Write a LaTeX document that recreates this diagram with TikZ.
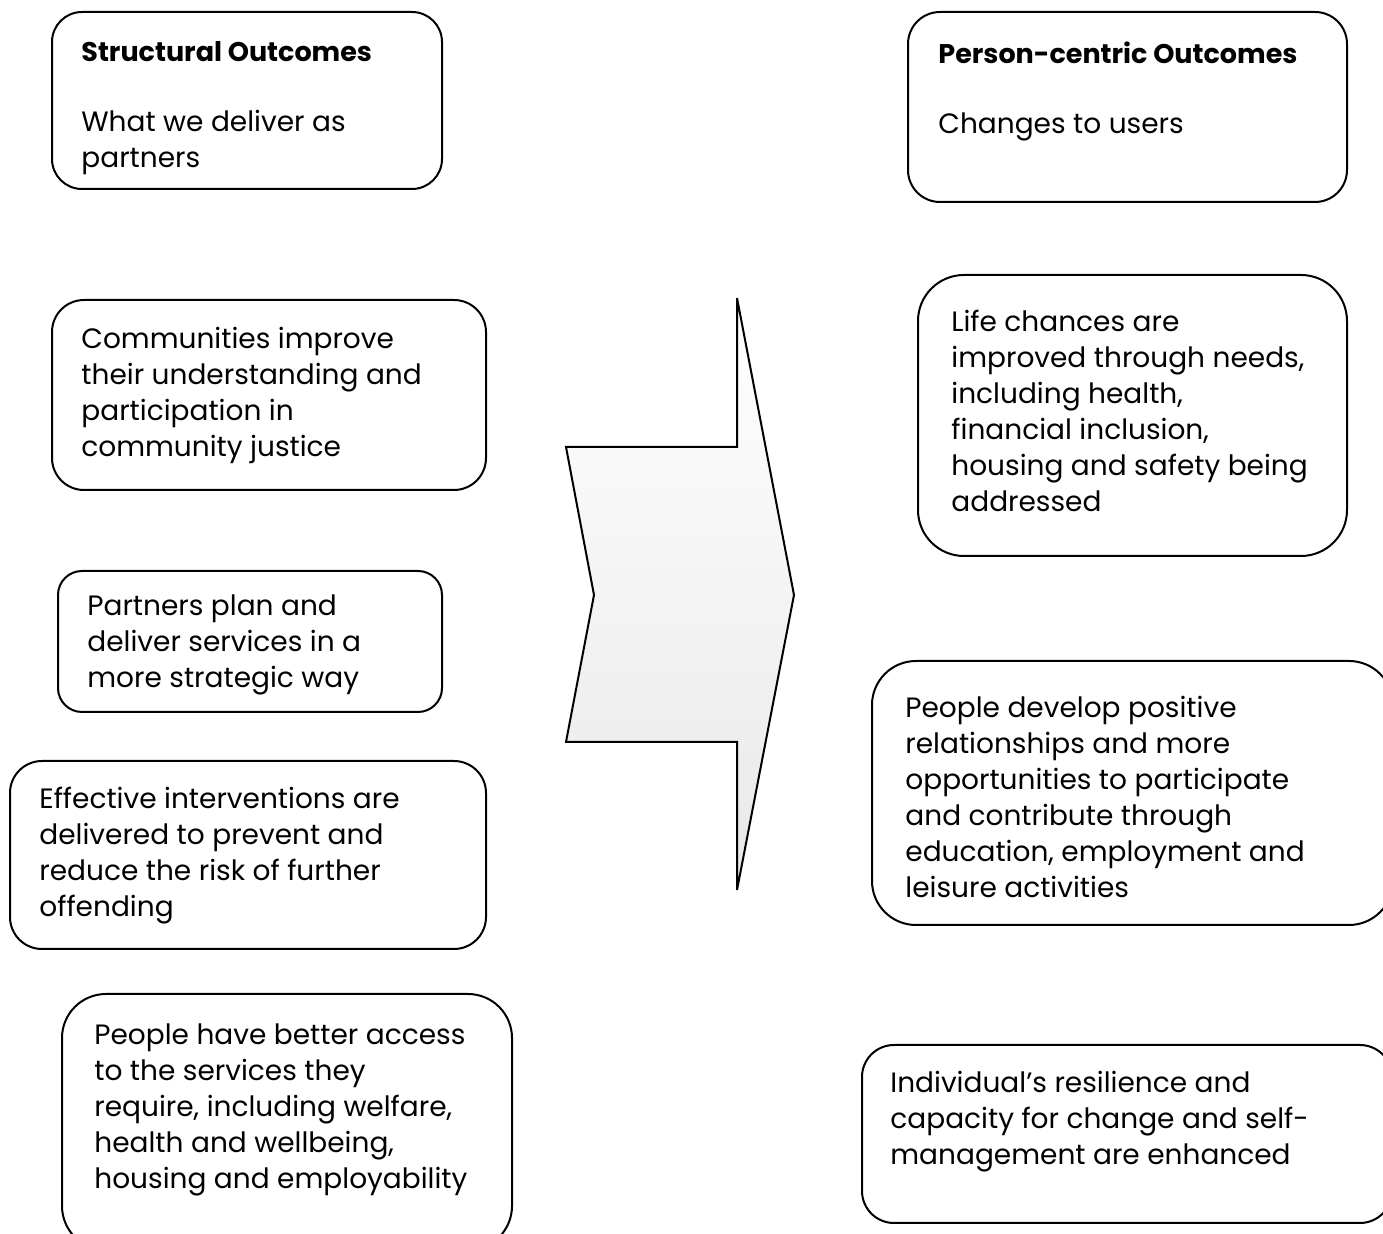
\documentclass[tikz,border=0pt]{standalone}
\usepackage{fontspec}
\setmainfont{Poppins}
\begin{document}
\begin{tikzpicture}[x=0.5pt,y=-0.5pt,
  box/.style={draw=black, line width=1pt, rounded corners=#1},
  txt/.style={anchor=west, align=left, inner sep=0pt, font=\fontsize{14}{18}\selectfont},
  head/.style={anchor=west, align=left, inner sep=0pt, font=\fontsize{13.5}{18}\selectfont\bfseries},
  arrowshape/.style={draw=black, line width=1pt, line join=miter, top color=white, bottom color=black!9}]
\useasboundingbox (0,0) rectangle (1383,1234);
% left column boxes
\draw[box=15pt] (52,12) rectangle (442,189);
\draw[box=16pt] (52,300) rectangle (486,490);
\draw[box=12pt] (58,571) rectangle (442,712);
\draw[box=16pt] (10,761) rectangle (486,949);
\draw[box=22pt] (62,994) rectangle (512,1250);
% right column boxes
\draw[box=16pt] (908,12) rectangle (1347,202);
\draw[box=23pt] (918,275) rectangle (1347,556);
\draw[box=22pt] (872,661) rectangle (1393,925);
\draw[box=16pt] (862,1045) rectangle (1392,1223);
% arrow
\path[arrowshape] (737,298) -- (737,447) -- (566,447) -- (594,595) -- (566,742)
  -- (737,742) -- (737,890) -- (794,595) -- cycle;
% texts
\node[head] (t1) at (81,52) {Structural Outcomes};
\node[txt] (t1b) at (81,142) {What we deliver as\\partners};
\node[head] (t2) at (938,53) {Person-centric Outcomes};
\node[txt] (t2b) at (938,127) {Changes to users};
\node[txt] (t3) at (81,395) {Communities improve\\their understanding and\\participation in\\community justice};
\node[txt] (t4) at (951,411) {Life chances are\\improved through needs,\\including health,\\financial inclusion,\\housing and safety being\\addressed};
\node[txt] (t5) at (87,645) {Partners plan and\\deliver services in a\\more strategic way};
\node[txt] (t6) at (905,797) {People develop positive\\relationships and more\\opportunities to participate\\and contribute through\\education, employment and\\leisure activities};
\node[txt] (t7) at (39,856) {Effective interventions are\\delivered to prevent and\\reduce the risk of further\\offending};
\node[txt] (t8) at (94,1110) {People have better access\\to the services they\\require, including welfare,\\health and wellbeing,\\housing and employability};
\node[txt] (t9) at (890,1122) {Individual’s resilience and\\capacity for change and self-\\management are enhanced};
\end{tikzpicture}
\end{document}
